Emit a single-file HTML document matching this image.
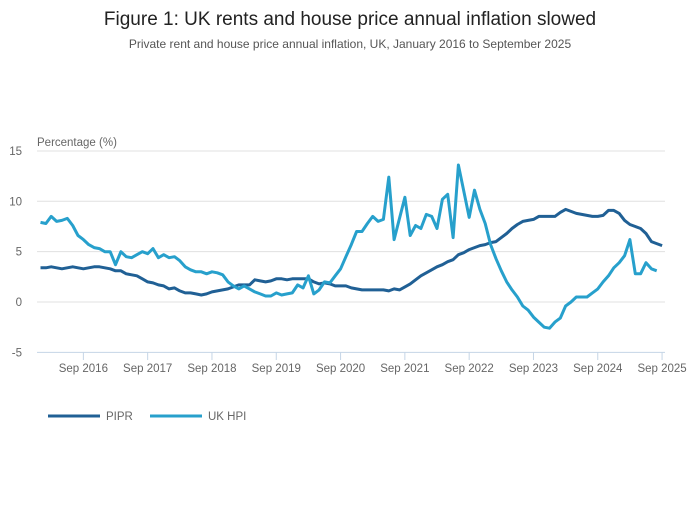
<!DOCTYPE html>
<html><head><meta charset="utf-8"><style>
body{margin:0;background:#fff;font-family:"Liberation Sans",sans-serif;}
svg text{font-family:"Liberation Sans",sans-serif;}
</style></head><body>
<svg width="700" height="502" xmlns="http://www.w3.org/2000/svg">
<text x="350" y="25" text-anchor="middle" font-size="19" fill="#222">Figure 1: UK rents and house price annual inflation slowed</text>
<text x="350" y="48" text-anchor="middle" font-size="12" fill="#555">Private rent and house price annual inflation, UK, January 2016 to September 2025</text>
<text x="37" y="146" font-size="11.5" fill="#666">Percentage (%)</text>
<g id="grid"></g><g id="xaxis"></g><g id="lines"></g>
<g>
<line x1="48" y1="416" x2="100" y2="416" stroke="#206095" stroke-width="3"/>
<text x="106" y="420" font-size="11.5" fill="#666">PIPR</text>
<line x1="150" y1="416" x2="202" y2="416" stroke="#27a0cc" stroke-width="3"/>
<text x="208" y="420" font-size="11.5" fill="#666">UK HPI</text>
</g>
</svg>
<script>
const yTicks=[15,10,5,0,-5];
const xTickLabels=["Sep 2016","Sep 2017","Sep 2018","Sep 2019","Sep 2020","Sep 2021","Sep 2022","Sep 2023","Sep 2024","Sep 2025"];
const xTickIndex=[8,20,32,44,56,68,80,92,104,116];
const pipr=[3.4,3.4,3.5,3.4,3.3,3.4,3.5,3.4,3.3,3.4,3.5,3.5,3.4,3.3,3.1,3.1,2.8,2.7,2.6,2.3,2.0,1.9,1.7,1.6,1.3,1.4,1.1,0.9,0.9,0.8,0.7,0.8,1.0,1.1,1.2,1.3,1.5,1.7,1.7,1.7,2.2,2.1,2.0,2.1,2.3,2.3,2.2,2.3,2.3,2.3,2.3,2.0,1.8,1.9,1.8,1.6,1.6,1.6,1.4,1.3,1.2,1.2,1.2,1.2,1.2,1.1,1.3,1.2,1.5,1.8,2.2,2.6,2.9,3.2,3.5,3.7,4.0,4.2,4.7,4.9,5.2,5.4,5.6,5.7,5.9,6.0,6.4,6.8,7.3,7.7,8.0,8.1,8.2,8.5,8.5,8.5,8.5,8.9,9.2,9.0,8.8,8.7,8.6,8.5,8.5,8.6,9.1,9.1,8.8,8.1,7.7,7.5,7.3,6.8,6.0,5.8,5.6];
const hpi=[7.9,7.8,8.5,8.0,8.1,8.3,7.6,6.6,6.2,5.7,5.4,5.3,5.0,5.0,3.7,5.0,4.5,4.4,4.7,5.0,4.8,5.3,4.4,4.7,4.4,4.5,4.1,3.5,3.2,3.0,3.0,2.8,3.0,2.9,2.7,2.0,1.6,1.3,1.6,1.3,1.0,0.8,0.6,0.6,0.9,0.7,0.8,0.9,1.7,1.4,2.6,0.8,1.2,2.0,1.9,2.6,3.3,4.5,5.7,7.0,7.0,7.8,8.5,8.0,8.2,12.4,6.2,8.3,10.4,6.6,7.6,7.3,8.7,8.5,7.3,10.2,10.7,6.4,13.6,11.0,8.4,11.1,9.2,7.8,5.7,4.3,3.1,2.0,1.2,0.5,-0.4,-0.8,-1.5,-2.0,-2.5,-2.6,-2.0,-1.6,-0.4,0.0,0.5,0.5,0.5,0.9,1.3,2.0,2.6,3.4,3.9,4.6,6.2,2.8,2.8,3.9,3.3,3.1];
const NS="http://www.w3.org/2000/svg";
const x=i=>40.5+i*(64.3/12);
const y=v=>302-v*10.07;
const grid=document.getElementById('grid');
yTicks.forEach(t=>{
  const l=document.createElementNS(NS,'line');
  
  
  l.setAttribute('x1',37);l.setAttribute('x2',665);l.setAttribute('y1',y(t));l.setAttribute('y2',y(t));
  l.setAttribute('stroke',t===-5?'#c5d5e6':'#e0e0e0');l.setAttribute('stroke-width',1);
  grid.appendChild(l);
  const tx=document.createElementNS(NS,'text');
  
  
  tx.setAttribute('x',22);tx.setAttribute('y',y(t)+4);tx.setAttribute('text-anchor','end');
  tx.setAttribute('font-size','11.5');tx.setAttribute('fill','#666');tx.textContent=t;
  grid.appendChild(tx);
});
const xa=document.getElementById('xaxis');
xTickLabels.forEach((lab,k)=>{
  const xx=x(xTickIndex[k]);
  const l=document.createElementNS(NS,'line');
  
  
  l.setAttribute('x1',xx);l.setAttribute('x2',xx);l.setAttribute('y1',352);l.setAttribute('y2',360);
  l.setAttribute('stroke','#c5d5e6');
  xa.appendChild(l);
  const tx=document.createElementNS(NS,'text');
  
  
  tx.setAttribute('x',xx);tx.setAttribute('y',372);tx.setAttribute('text-anchor','middle');
  tx.setAttribute('font-size','11.5');tx.setAttribute('fill','#666');tx.textContent=lab;
  xa.appendChild(tx);
});
const lines=document.getElementById('lines');
function draw(arr,color,name){
  const p=document.createElementNS(NS,'polyline');
  
  
  p.setAttribute('points',arr.map((v,i)=>x(i).toFixed(1)+','+y(v).toFixed(1)).join(' '));
  p.setAttribute('fill','none');p.setAttribute('stroke',color);p.setAttribute('stroke-width',3);
  p.setAttribute('stroke-linejoin','round');
  lines.appendChild(p);
}
draw(pipr,'#206095','pipr-line');
draw(hpi,'#27a0cc','hpi-line');
</script>
</body></html>
